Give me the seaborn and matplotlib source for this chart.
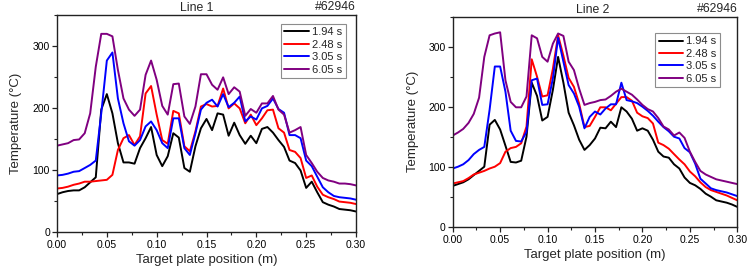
import matplotlib
matplotlib.use("Agg")
import matplotlib.pyplot as plt
import seaborn as sns
import pandas as pd
from matplotlib.ticker import MultipleLocator

# ---------------- data ----------------
position_m = [0.0000, 0.0056, 0.0111, 0.0167, 0.0222, 0.0278, 0.0333, 0.0389, 0.0444, 0.0500,
              0.0556, 0.0611, 0.0667, 0.0722, 0.0778, 0.0833, 0.0889, 0.0944, 0.1000, 0.1056,
              0.1111, 0.1167, 0.1222, 0.1278, 0.1333, 0.1389, 0.1444, 0.1500, 0.1556, 0.1611,
              0.1667, 0.1722, 0.1778, 0.1833, 0.1889, 0.1944, 0.2000, 0.2056, 0.2111, 0.2167,
              0.2222, 0.2278, 0.2333, 0.2389, 0.2444, 0.2500, 0.2556, 0.2611, 0.2667, 0.2722,
              0.2778, 0.2833, 0.2889, 0.2944, 0.3000]

times = ["1.94 s", "2.48 s", "3.05 s", "6.05 s"]
colors = ["#000000", "#ff0000", "#0000ff", "#800080"]

line1_194 = [61, 64, 66, 67, 67, 72, 80, 88, 197, 222, 191, 143, 112, 112, 110, 135, 151, 169, 124, 106,
             122, 159, 152, 103, 97, 138, 167, 182, 164, 191, 189, 155, 176, 156, 142, 155, 143, 166, 169, 160,
             148, 137, 115, 111, 99, 71, 81, 64, 48, 44, 41, 37, 36, 35, 33]
line1_248 = [70, 71, 73, 76, 78, 81, 81, 82, 83, 84, 92, 132, 151, 156, 140, 154, 223, 235, 189, 148,
             142, 195, 191, 138, 130, 162, 202, 206, 202, 203, 231, 199, 207, 199, 175, 189, 172, 183, 196, 197,
             167, 160, 132, 129, 119, 87, 91, 73, 60, 56, 53, 49, 48, 47, 45]
line1_305 = [91, 92, 94, 97, 98, 103, 108, 115, 191, 276, 289, 215, 175, 146, 139, 148, 170, 178, 164, 143,
             135, 183, 183, 135, 124, 159, 197, 208, 213, 202, 222, 201, 208, 218, 178, 186, 181, 199, 203, 215,
             198, 192, 156, 156, 151, 115, 106, 89, 72, 64, 58, 56, 55, 54, 52]
line1_605 = [139, 141, 143, 148, 149, 159, 191, 266, 319, 319, 315, 261, 215, 197, 187, 197, 253, 276, 245, 203,
             189, 238, 239, 186, 174, 202, 254, 254, 237, 229, 249, 222, 233, 226, 187, 198, 192, 207, 207, 219,
             197, 189, 160, 164, 169, 124, 111, 97, 87, 83, 81, 78, 78, 77, 75]

line2_194 = [68, 71, 74, 79, 86, 93, 100, 170, 178, 162, 135, 108, 107, 110, 150, 240, 218, 177, 183, 228,
             283, 240, 190, 169, 145, 128, 136, 147, 165, 164, 175, 166, 199, 192, 180, 160, 164, 160, 145, 125,
             117, 115, 104, 97, 82, 73, 69, 63, 55, 50, 44, 42, 40, 37, 33]
line2_248 = [72, 74, 76, 81, 87, 90, 93, 97, 100, 106, 125, 131, 133, 139, 167, 279, 250, 217, 219, 263,
             319, 285, 248, 233, 205, 166, 168, 183, 199, 199, 194, 205, 216, 216, 210, 190, 184, 181, 172, 140,
             136, 130, 121, 112, 104, 92, 84, 74, 66, 61, 58, 55, 52, 48, 44]
line2_305 = [97, 100, 104, 111, 121, 128, 133, 195, 267, 267, 225, 160, 143, 142, 158, 244, 247, 203, 204, 247,
             315, 275, 236, 222, 200, 164, 183, 192, 187, 197, 204, 204, 240, 211, 209, 206, 200, 193, 185, 175,
             166, 159, 150, 147, 131, 124, 105, 80, 72, 64, 61, 59, 57, 54, 51]
line2_605 = [152, 157, 163, 173, 188, 215, 283, 319, 322, 324, 244, 208, 199, 199, 217, 319, 314, 283, 275, 305,
             322, 318, 275, 261, 230, 203, 206, 208, 211, 212, 218, 225, 230, 225, 220, 212, 203, 196, 192, 181,
             167, 162, 152, 157, 148, 125, 108, 93, 87, 83, 79, 77, 75, 73, 71]

panel_titles = ["Line 1", "Line 2"]
shot_label = "#62946"


def long_frame(series):
    rows = []
    for t, vals in zip(times, series):
        for x, v in zip(position_m, vals):
            rows.append({"position": x, "temperature": v, "time": t})
    return pd.DataFrame(rows)


df1 = long_frame([line1_194, line1_248, line1_305, line1_605])
df2 = long_frame([line2_194, line2_248, line2_305, line2_605])

# ---------------- style ----------------
sns.set_style("ticks")
plt.rcParams["font.family"] = ["Liberation Sans", "DejaVu Sans"]
plt.rcParams["axes.linewidth"] = 1.0
plt.rcParams["axes.edgecolor"] = "#222222"

fig = plt.figure(figsize=(7.51, 2.71), dpi=100)
W, H = 751.0, 271.0

panels = [
    dict(df=df1, rect=(57, 14.6, 356, 232), title=panel_titles[0], title_x=0.468,
         leg=(0.966, 0.957), ylabelpad=8),
    dict(df=df2, rect=(452.7, 16.7, 737.3, 226.7), title=panel_titles[1], title_x=0.493,
         leg=(0.939, 0.922), ylabelpad=7),
]

palette = dict(zip(times, colors))

for p in panels:
    x0, y0, x1, y1 = p["rect"]
    ax = fig.add_axes([x0 / W, 1 - y1 / H, (x1 - x0) / W, (y1 - y0) / H])
    sns.lineplot(data=p["df"], x="position", y="temperature", hue="time",
                 hue_order=times, palette=palette, estimator=None, sort=False,
                 linewidth=1.4, ax=ax)
    ax.set_xlim(0, 0.30)
    ax.set_ylim(0, 350)
    ax.xaxis.set_major_locator(MultipleLocator(0.05))
    ax.xaxis.set_minor_locator(MultipleLocator(0.025))
    ax.yaxis.set_major_locator(MultipleLocator(100))
    ax.yaxis.set_minor_locator(MultipleLocator(50))
    ax.set_xticklabels([f"{v:.2f}" for v in ax.get_xticks()])
    ax.tick_params(axis="both", which="major", direction="out", length=3.5, width=0.9,
                   labelsize=7.5, pad=1.5, colors="#222222", labelcolor="black")
    ax.tick_params(axis="both", which="minor", direction="out", length=2, width=0.8,
                   colors="#222222")
    ax.tick_params(axis="x", which="major", pad=2.5)
    for s in ["top", "right", "left", "bottom"]:
        ax.spines[s].set_visible(True)
    ax.set_xlabel("Target plate position (m)", fontsize=9.5, labelpad=2.5)
    ax.set_ylabel("Temperature (°C)", fontsize=9.5, labelpad=p["ylabelpad"])
    ax.text(p["title_x"], 1.0 + 6.5 / (y1 - y0), p["title"], transform=ax.transAxes,
            ha="center", va="center", fontsize=8.8)
    ax.text(1.0, 1.0 + 7.5 / (y1 - y0), shot_label, transform=ax.transAxes,
            ha="right", va="center", fontsize=8.8)
    handles, labels = ax.get_legend_handles_labels()
    ax.legend(handles, labels, loc="upper right", bbox_to_anchor=p["leg"],
              fontsize=8, frameon=True, fancybox=False, framealpha=1,
              edgecolor="#8c8c8c", borderpad=0.3, labelspacing=0.22,
              handlelength=2.2, handletextpad=0.3, borderaxespad=0.0)
    ax.get_legend().get_frame().set_linewidth(0.8)

fig.savefig("out.png", dpi=100)
